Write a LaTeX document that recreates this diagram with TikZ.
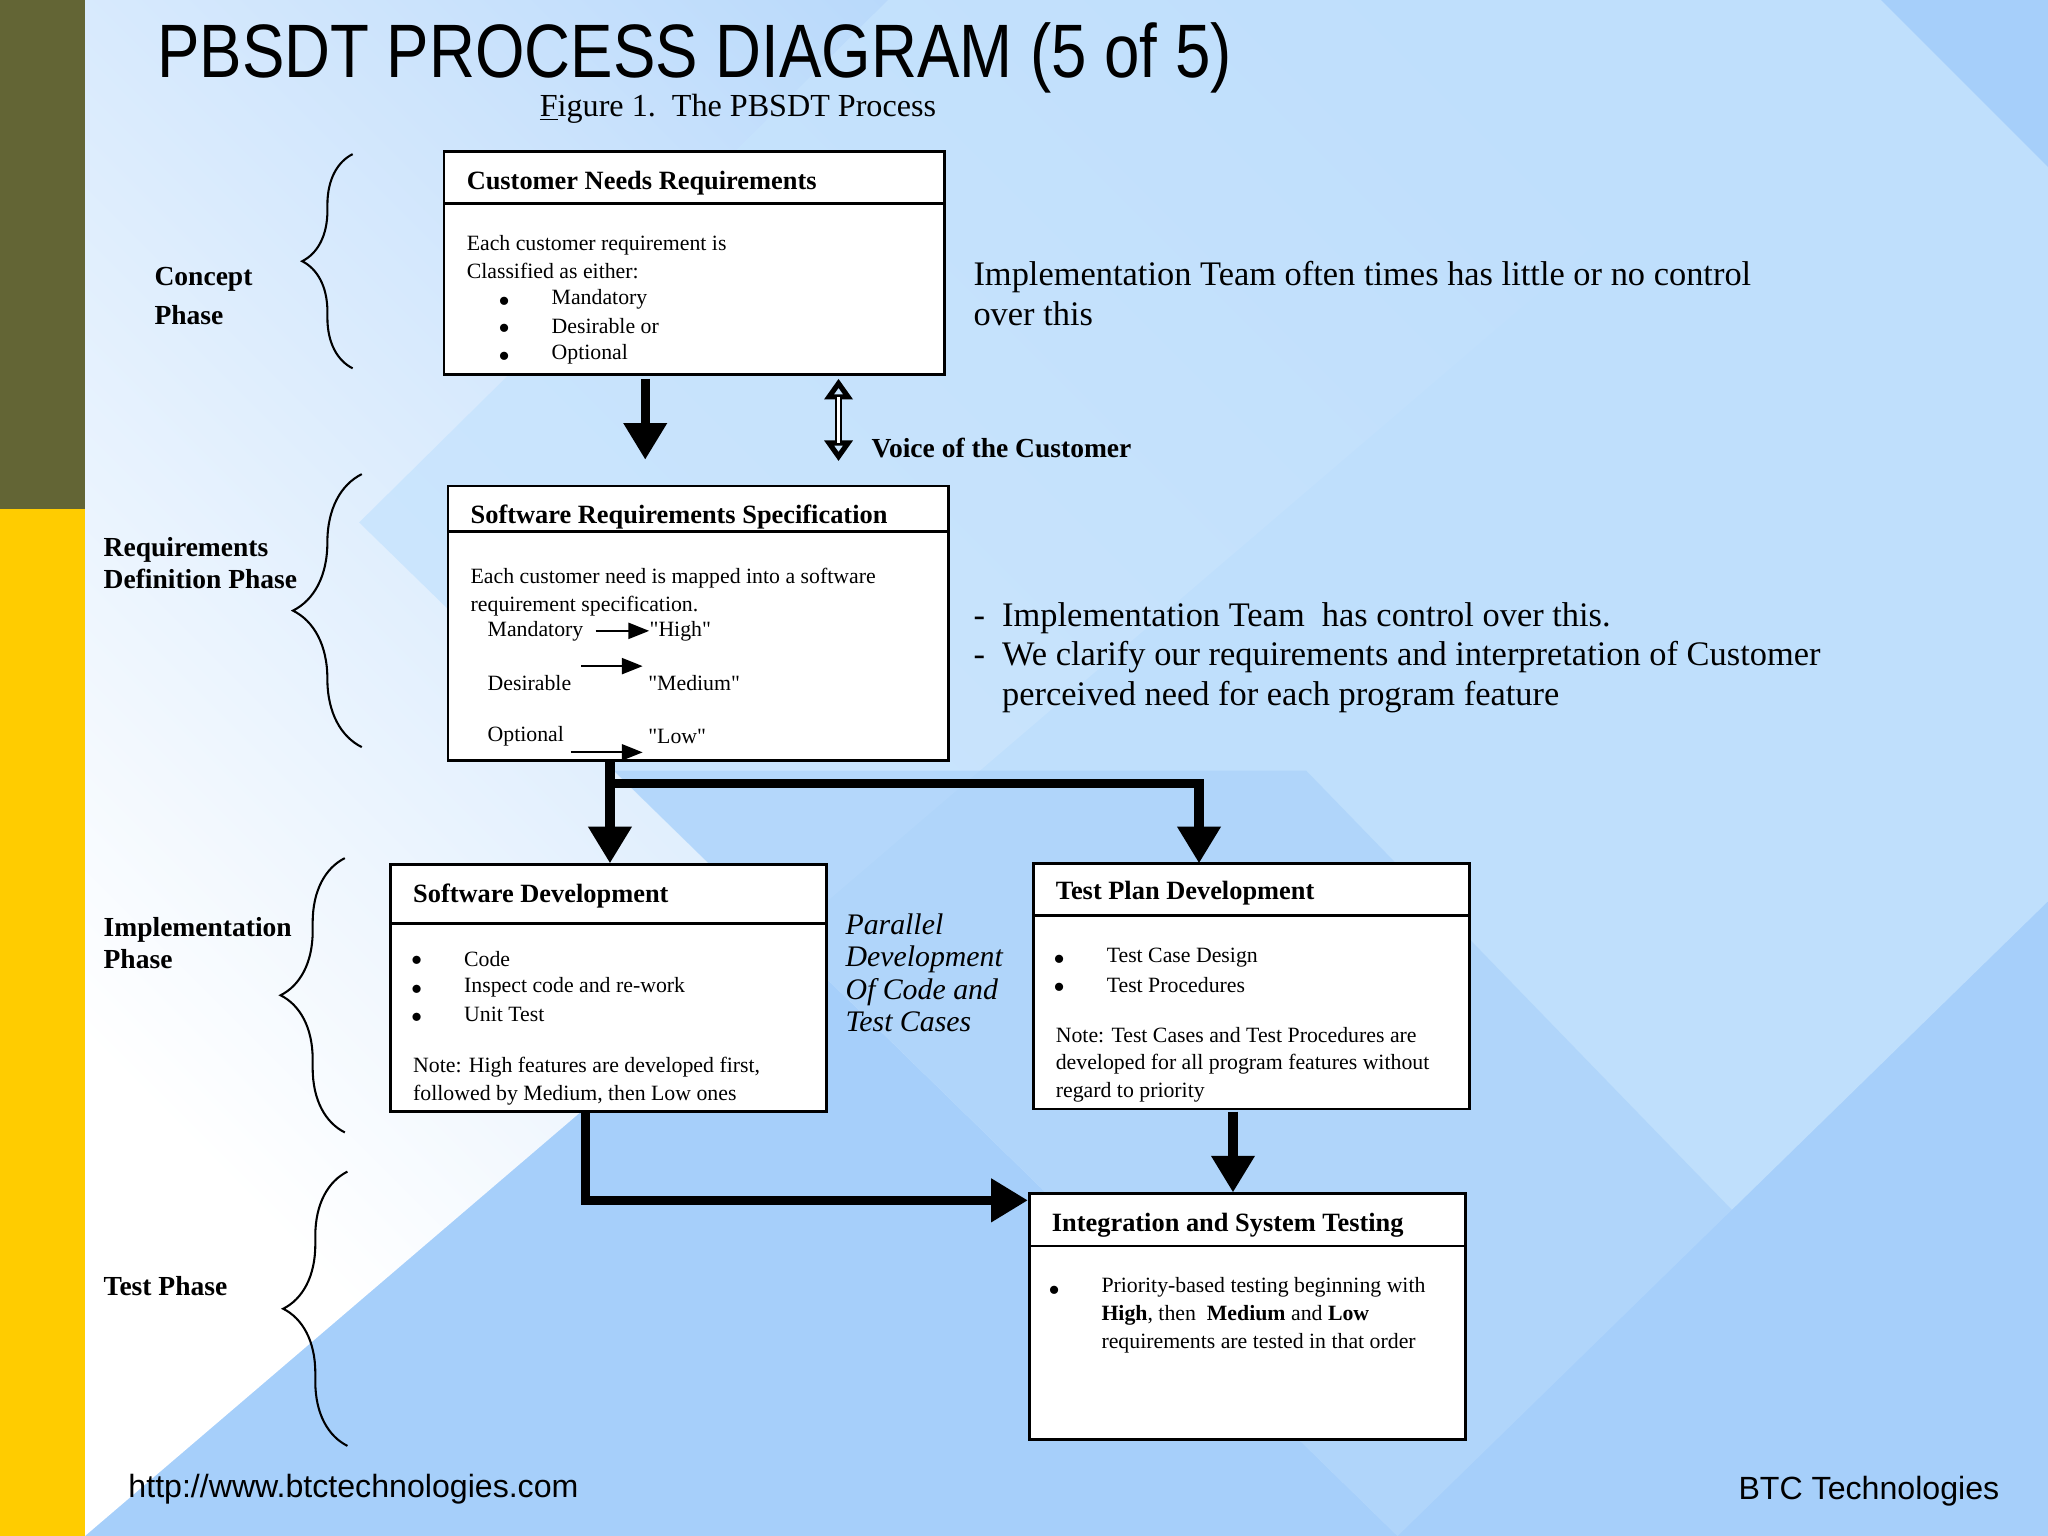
\documentclass[tikz,border=0pt]{standalone}
\usepackage{fontspec}
\setmainfont{Liberation Serif}
\newfontfamily\sansf{Liberation Sans}
\usetikzlibrary{arrows.meta,decorations.pathreplacing}
\definecolor{olive}{HTML}{636535}
\definecolor{gold}{HTML}{FFCC00}
\definecolor{bgblue}{HTML}{A6CFFA}
\definecolor{litblue}{HTML}{C6E3FD}
\begin{document}
\begin{tikzpicture}[x=0.02cm,y=-0.02cm,inner sep=0pt,
 box/.style={draw=black,line width=1.2pt,fill=white},
 big/.style={line width=4pt,-{Triangle[length=16pt,width=18pt]}},
 small/.style={line width=0.8pt,-{Triangle[length=9pt,width=7pt]}},
 brc/.style={decorate,decoration={brace,amplitude=22pt},line width=0.9pt},
 ttl/.style={anchor=west,font=\fontsize{11.5}{14}\selectfont\bfseries},
 txt/.style={anchor=north west,align=left,font=\fontsize{9.5}{12}\selectfont},
 ph/.style={anchor=west,align=left,font=\fontsize{12}{14}\selectfont\bfseries},
 rt/.style={anchor=north west,align=left,font=\fontsize{15}{17.2}\selectfont}]
\useasboundingbox (0,0) rectangle (1568,1176);
% background
\fill[bgblue] (65,0) rectangle (1568,1176);
\shade[left color=white,right color=bgblue,shading angle=135] (65,0) -- (1440,0) -- (65,1176) -- cycle;
\fill[litblue,opacity=0.8] (275,400) -- (680,0) -- (1440,0) -- (1568,128) -- (1568,690) -- (1070,1176) -- cycle;
\fill[bgblue,opacity=0.6] (470,590) -- (1000,590) -- (1568,1176) -- (1070,1176) -- cycle;
\fill[olive] (0,0) rectangle (65,390);
\fill[gold] (0,390) rectangle (65,1176);
% title
\node[anchor=west,font=\sansf\fontsize{33}{36}\selectfont] (title) at (120,44) {\scalebox{0.84}[1]{PBSDT PROCESS DIAGRAM (5 of 5)}};
\node[font=\fontsize{14}{16}\selectfont] (fig) at (565,83) {\underline{F}igure 1.\ \ The PBSDT Process};
% boxes
\draw[box] (340,116) rectangle (723,287); \draw[line width=1.2pt] (340,156) -- (723,156);
\node[ttl] (b1t) at (357,140) {Customer Needs Requirements};
\node[txt] (b1x) at (357,180) {Each customer requirement is\\Classified as either:};
\foreach \y/\t [count=\i] in {229/Mandatory,250/Desirable or,271/Optional}{
 \node[font=\fontsize{9.5}{12}\selectfont] (b1d\i) at (386,\y+2) {$\bullet$};
 \node[anchor=west,font=\fontsize{9.5}{12}\selectfont] (b1i\i) at (422,\y) {\t};}
\draw[box] (343,372) rectangle (726,582); \draw[line width=1.2pt] (343,407) -- (726,407);
\node[ttl] (b2t) at (360,396) {Software Requirements Specification};
\node[txt] (b2x) at (360,435) {Each customer need is mapped into a software\\requirement specification.};
\node[anchor=west,font=\fontsize{9.5}{12}\selectfont] (m) at (373,483) {Mandatory};
\node[anchor=west,font=\fontsize{9.5}{12}\selectfont] (mh) at (497,483) {\textquotedbl High\textquotedbl};
\node[anchor=west,font=\fontsize{9.5}{12}\selectfont] (d) at (373,523) {Desirable};
\node[anchor=west,font=\fontsize{9.5}{12}\selectfont] (dm) at (496,523) {\textquotedbl Medium\textquotedbl};
\node[anchor=west,font=\fontsize{9.5}{12}\selectfont] (o) at (373,564) {Optional};
\node[anchor=west,font=\fontsize{9.5}{12}\selectfont] (ol) at (496,564) {\textquotedbl Low\textquotedbl};
\coordinate (a1) at (456,483); \coordinate (a2) at (497,483);
\coordinate (a3) at (445,510); \coordinate (a4) at (492,510);
\coordinate (a5) at (437,576); \coordinate (a6) at (492,576);
\draw[small] (a1) -- (a2); \draw[small] (a3) -- (a4); \draw[small] (a5) -- (a6);
\draw[box] (299,662) rectangle (633,851); \draw[line width=1.2pt] (299,707) -- (633,707);
\node[ttl] (b3t) at (316,686) {Software Development};
\foreach \y/\t [count=\i] in {734/Code,756/Inspect code and re-work,777/Unit Test}{
 \node[font=\fontsize{9.5}{12}\selectfont] (b3d\i) at (319,\y+2) {$\bullet$};
 \node[anchor=west,font=\fontsize{9.5}{12}\selectfont] (b3i\i) at (355,\y) {\t};}
\node[txt] (b3n) at (316,809) {Note: High features are developed first,\\followed by Medium, then Low ones};
\draw[box] (791,661) rectangle (1125,849); \draw[line width=1.2pt] (791,701) -- (1125,701);
\node[ttl] (b4t) at (808,684) {Test Plan Development};
\foreach \y/\t [count=\i] in {733/Test Case Design,754/Test Procedures}{
 \node[font=\fontsize{9.5}{12}\selectfont] (b4d\i) at (811,\y+2) {$\bullet$};
 \node[anchor=west,font=\fontsize{9.5}{12}\selectfont] (b4i\i) at (847,\y) {\t};}
\node[txt] (b4n) at (808,786) {Note: Test Cases and Test Procedures are\\developed for all program features without\\regard to priority};
\draw[box] (788,914) rectangle (1122,1102); \draw[line width=1.2pt] (788,954) -- (1122,954);
\node[ttl] (b5t) at (805,938) {Integration and System Testing};
\node[font=\fontsize{9.5}{12}\selectfont] (b5d) at (807,988) {$\bullet$};
\node[txt] (b5x) at (843,978) {Priority-based testing beginning with\\\textbf{High}, then\ \ \textbf{Medium} and \textbf{Low}\\requirements are tested in that order};
% arrows
\coordinate (p1) at (494,290); \coordinate (p2) at (494,352);
\draw[big] (p1) -- (p2);
\coordinate (v1) at (642,290); \coordinate (v2) at (642,353);
\draw[line width=3pt,{Triangle[open,length=9pt,width=12pt]}-{Triangle[open,length=9pt,width=12pt]}] (v1) -- (v2);
\draw[white,line width=1.6pt,shorten <=8pt,shorten >=8pt] (v1) -- (v2);
\node[anchor=west,font=\fontsize{12}{14}\selectfont\bfseries] (voc) at (667,343) {Voice of the Customer};
\coordinate (q1) at (467,582); \coordinate (q2) at (467,661);
\coordinate (q3) at (467,600); \coordinate (q4) at (918,600); \coordinate (q5) at (918,661);
\draw[big] (q1) -- (q2);
\draw[big] (q3) -- (q4) -- (q5);
\coordinate (r1) at (944,851); \coordinate (r2) at (944,913);
\draw[big] (r1) -- (r2);
\coordinate (s1) at (448,851); \coordinate (s2) at (448,919); \coordinate (s3) at (787,919);
\draw[big] (s1) -- (s2) -- (s3);
% side text
\node[rt] (imp1) at (745,200) {Implementation Team often times has little or no control\\over this};
\node[rt] (imp2) at (745,461) {-\ \ Implementation Team\ \ has control over this.\\-\ \ We clarify our requirements and interpretation of Customer\\\phantom{-}\ \ perceived need for each program feature};
\node[anchor=north west,align=left,font=\fontsize{13}{14.2}\selectfont\itshape] (par) at (647,699) {Parallel\\Development\\Of Code and\\Test Cases};
% phases
\node[ph] (c) at (118,227) {Concept\\[3pt]Phase};
\node[ph] (r) at (79,431) {Requirements\\Definition Phase};
\node[ph] (i) at (79,722) {Implementation\\Phase};
\node[ph] (t) at (79,985) {Test Phase};
\coordinate (k1) at (270,282); \coordinate (k2) at (270,118);
\coordinate (k3) at (277,572); \coordinate (k4) at (277,363);
\coordinate (k5) at (264,867); \coordinate (k6) at (264,657);
\coordinate (k7) at (266,1107); \coordinate (k8) at (266,897);
\draw[brc] (k1) -- (k2); \draw[brc,decoration={amplitude=30pt}] (k3) -- (k4);
\draw[brc,decoration={amplitude=28pt}] (k5) -- (k6); \draw[brc,decoration={amplitude=28pt}] (k7) -- (k8);
% footer
\node[anchor=west,font=\sansf\fontsize{14}{16}\selectfont] (url) at (98,1140) {http://www.btctechnologies.com};
\node[anchor=east,font=\sansf\fontsize{14}{16}\selectfont] (btc) at (1531,1142) {BTC Technologies};
\end{tikzpicture}
\end{document}
